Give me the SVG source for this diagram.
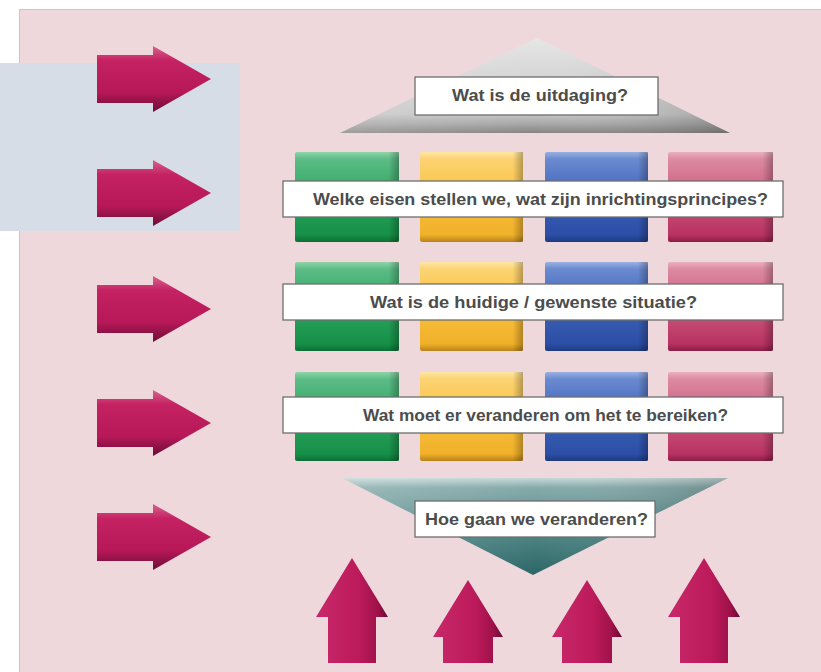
<svg xmlns="http://www.w3.org/2000/svg" xmlns:xlink="http://www.w3.org/1999/xlink" width="821" height="672" viewBox="0 0 821 672">
<style>
.lbl{fill:#ffffff;stroke:#6e6e6e;stroke-width:1.3}
.txt{font-family:"Liberation Sans",Arial,sans-serif;font-weight:bold;font-size:16px;fill:#4c4c4c}
</style>
<defs>
<linearGradient id="gArrR" x1="0" y1="0" x2="0" y2="1">
<stop offset="0" stop-color="#d8628e"/><stop offset="0.22" stop-color="#c42262"/><stop offset="0.7" stop-color="#b81858"/><stop offset="1" stop-color="#6c0c36"/>
</linearGradient>
<linearGradient id="gArrU" x1="0" y1="0" x2="1" y2="0">
<stop offset="0" stop-color="#c8286a"/><stop offset="0.6" stop-color="#bc1a5a"/><stop offset="0.85" stop-color="#a0124a"/><stop offset="1" stop-color="#6a0a34"/>
</linearGradient>
<linearGradient id="gShadeR" x1="0" y1="0" x2="1" y2="0">
<stop offset="0" stop-color="#000" stop-opacity="0"/><stop offset="0.9" stop-color="#000" stop-opacity="0"/><stop offset="1" stop-color="#000" stop-opacity="0.28"/>
</linearGradient>
<linearGradient id="gGreen" x1="0" y1="0" x2="0" y2="1">
<stop offset="0" stop-color="#8fd4a8"/><stop offset="0.08" stop-color="#5cbc86"/><stop offset="0.5" stop-color="#2ca55e"/><stop offset="0.92" stop-color="#169048"/><stop offset="1" stop-color="#0e6e36"/>
</linearGradient>
<linearGradient id="gYellow" x1="0" y1="0" x2="0" y2="1">
<stop offset="0" stop-color="#fde6a4"/><stop offset="0.08" stop-color="#fcd372"/><stop offset="0.5" stop-color="#f9c23e"/><stop offset="0.92" stop-color="#f0b02a"/><stop offset="1" stop-color="#b8821a"/>
</linearGradient>
<linearGradient id="gBlue" x1="0" y1="0" x2="0" y2="1">
<stop offset="0" stop-color="#9ab0e0"/><stop offset="0.08" stop-color="#6a8ad0"/><stop offset="0.5" stop-color="#3e62b8"/><stop offset="0.92" stop-color="#2c4ea6"/><stop offset="1" stop-color="#1e3a80"/>
</linearGradient>
<linearGradient id="gPink" x1="0" y1="0" x2="0" y2="1">
<stop offset="0" stop-color="#eab0c0"/><stop offset="0.08" stop-color="#dc8aa2"/><stop offset="0.5" stop-color="#cc5a7e"/><stop offset="0.92" stop-color="#b83262"/><stop offset="1" stop-color="#8a1e46"/>
</linearGradient>
<linearGradient id="gTop" x1="0" y1="0" x2="0" y2="1">
<stop offset="0" stop-color="#e6e6e6"/><stop offset="0.8" stop-color="#c6c6c6"/><stop offset="0.9" stop-color="#a8a8a8"/><stop offset="1" stop-color="#858585"/>
</linearGradient>
<linearGradient id="gTopH" x1="0" y1="0" x2="1" y2="0">
<stop offset="0" stop-color="#fff" stop-opacity="0.2"/><stop offset="0.5" stop-color="#fff" stop-opacity="0"/><stop offset="1" stop-color="#000" stop-opacity="0.18"/>
</linearGradient>
<linearGradient id="gBot" x1="0" y1="0" x2="0" y2="1">
<stop offset="0" stop-color="#c6d8d8"/><stop offset="0.1" stop-color="#86aaaa"/><stop offset="0.5" stop-color="#558a8a"/><stop offset="1" stop-color="#2c6666"/>
</linearGradient>
<path id="arrR" d="M97,-24 H153 V-33 L211,0 L153,33 V24 H97 Z"/>
</defs>

<rect x="0" y="0" width="821" height="672" fill="#ffffff"/>
<rect id="background" x="19" y="9" width="802" height="663" fill="#efd8dc"/>
<path d="M19.5,672 V9.5 H821" fill="none" stroke="#d2c2c6" stroke-width="1"/>
<rect id="side-panel" x="0" y="63" width="240" height="168" fill="#d6dde6"/>

<g id="left-arrows">
<use xlink:href="#arrR" href="#arrR" transform="translate(0,79)" fill="url(#gArrR)"/>
<use xlink:href="#arrR" href="#arrR" transform="translate(0,193)" fill="url(#gArrR)"/>
<use xlink:href="#arrR" href="#arrR" transform="translate(0,309)" fill="url(#gArrR)"/>
<use xlink:href="#arrR" href="#arrR" transform="translate(0,423)" fill="url(#gArrR)"/>
<use xlink:href="#arrR" href="#arrR" transform="translate(0,537)" fill="url(#gArrR)"/>
</g>

<g id="top-triangle">
<polygon points="537,38 730,133 340,133" fill="url(#gTop)"/>
<polygon points="537,38 730,133 340,133" fill="url(#gTopH)"/>
<rect class="lbl" x="415" y="77" width="243" height="38"/>
<text class="txt" x="452" y="101" textLength="176" lengthAdjust="spacingAndGlyphs">Wat is de uitdaging?</text>
</g>

<g id="row1">
<rect x="295" y="152" width="104" height="90" rx="2" fill="url(#gGreen)"/>
<rect x="420" y="152" width="103" height="90" rx="2" fill="url(#gYellow)"/>
<rect x="545" y="152" width="103" height="90" rx="2" fill="url(#gBlue)"/>
<rect x="668" y="152" width="105" height="90" rx="2" fill="url(#gPink)"/>
<g fill="url(#gShadeR)">
<rect x="295" y="152" width="104" height="90"/><rect x="420" y="152" width="103" height="90"/><rect x="545" y="152" width="103" height="90"/><rect x="668" y="152" width="105" height="90"/>
</g>
<rect class="lbl" x="283" y="181" width="500" height="36"/>
<text class="txt" x="313" y="205" textLength="455" lengthAdjust="spacingAndGlyphs">Welke eisen stellen we, wat zijn inrichtingsprincipes?</text>
</g>

<g id="row2">
<rect x="295" y="262" width="104" height="89" rx="2" fill="url(#gGreen)"/>
<rect x="420" y="262" width="103" height="89" rx="2" fill="url(#gYellow)"/>
<rect x="545" y="262" width="103" height="89" rx="2" fill="url(#gBlue)"/>
<rect x="668" y="262" width="105" height="89" rx="2" fill="url(#gPink)"/>
<g fill="url(#gShadeR)">
<rect x="295" y="262" width="104" height="89"/><rect x="420" y="262" width="103" height="89"/><rect x="545" y="262" width="103" height="89"/><rect x="668" y="262" width="105" height="89"/>
</g>
<rect class="lbl" x="283" y="284" width="500" height="36"/>
<text class="txt" x="370" y="308" textLength="327" lengthAdjust="spacingAndGlyphs">Wat is de huidige / gewenste situatie?</text>
</g>

<g id="row3">
<rect x="295" y="372" width="104" height="89" rx="2" fill="url(#gGreen)"/>
<rect x="420" y="372" width="103" height="89" rx="2" fill="url(#gYellow)"/>
<rect x="545" y="372" width="103" height="89" rx="2" fill="url(#gBlue)"/>
<rect x="668" y="372" width="105" height="89" rx="2" fill="url(#gPink)"/>
<g fill="url(#gShadeR)">
<rect x="295" y="372" width="104" height="89"/><rect x="420" y="372" width="103" height="89"/><rect x="545" y="372" width="103" height="89"/><rect x="668" y="372" width="105" height="89"/>
</g>
<rect class="lbl" x="283" y="397" width="500" height="36"/>
<text class="txt" x="363" y="421" textLength="365" lengthAdjust="spacingAndGlyphs">Wat moet er veranderen om het te bereiken?</text>
</g>

<g id="bottom-triangle">
<polygon points="342,478 728,478 533,575" fill="url(#gBot)"/>
<polygon points="342,478 728,478 533,575" fill="url(#gTopH)"/>
<rect class="lbl" x="415" y="501" width="240" height="36"/>
<text class="txt" x="425" y="525" textLength="223" lengthAdjust="spacingAndGlyphs">Hoe gaan we veranderen?</text>
</g>

<g id="up-arrows" fill="url(#gArrU)">
<path d="M352,558 L388,617 H376 V663 H328 V617 H316 Z"/>
<path d="M468,580 L503,637 H493 V663 H443 V637 H433 Z"/>
<path d="M587,580 L622,637 H612 V663 H562 V637 H552 Z"/>
<path d="M704,558 L740,617 H728 V663 H680 V617 H668 Z"/>
</g>
</svg>
